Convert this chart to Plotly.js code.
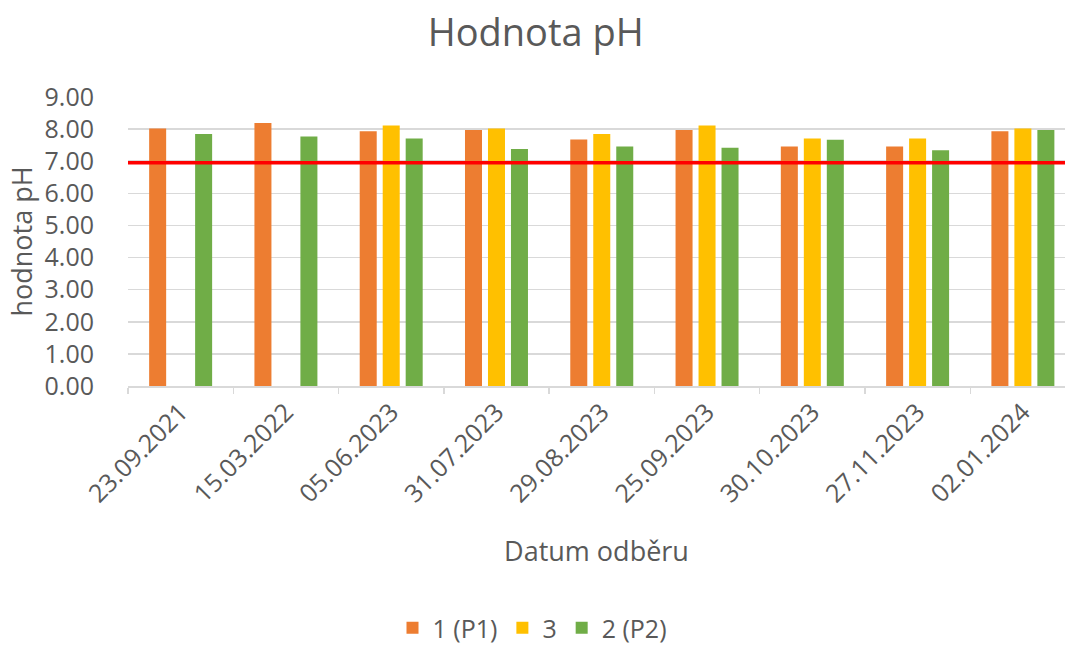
<!DOCTYPE html>
<html>
<head>
<meta charset="utf-8">
<script src="https://cdn.plot.ly/plotly-3.0.1.min.js"></script>
<style>html,body{margin:0;padding:0;background:#fff;}#chart{width:1065px;height:651px;}</style>
</head>
<body>
<div id="chart"></div>
<script>
const categories = ["23.09.2021","15.03.2022","05.06.2023","31.07.2023","29.08.2023","25.09.2023","30.10.2023","27.11.2023","02.01.2024"];
const seriesNames = ["1 (P1)", "3", "2 (P2)"];
const p1 = [8.02, 8.19, 7.93, 7.97, 7.68, 7.97, 7.46, 7.46, 7.93];
const s3 = [null, null, 8.11, 8.02, 7.85, 8.11, 7.71, 7.71, 8.02];
const p2 = [7.85, 7.77, 7.71, 7.38, 7.46, 7.42, 7.67, 7.34, 7.97];
const limitValue = 6.95;
const yTicks = [0,1,2,3,4,5,6,7,8,9];
const colors = ["#ED7D31", "#FFC000", "#70AD47"];

const FONT = "Open Sans, Noto Sans, sans-serif";
const GRAY = "#595959";

const traces = [p1, s3, p2].map((vals, i) => ({
  type: "bar",
  name: seriesNames[i],
  x: categories,
  y: vals,
  marker: {color: colors[i]},
  hoverinfo: "x+y+name"
}));

const layout = {
  width: 1065, height: 651,
  paper_bgcolor: "#fff", plot_bgcolor: "#fff",
  margin: {l: 128, r: 0, t: 97, b: 265},
  font: {family: FONT, color: GRAY},
  title: {text: "Hodnota pH", font: {family: FONT, size: 38, color: GRAY}, x: 0.503, xref: "container", xanchor: "center", y: 0.95, yref: "container", yanchor: "middle"},
  barmode: "group",
  bargap: 0.345,
  bargroupgap: 0.26,
  xaxis: {
    type: "category",
    range: [-0.5, 8.4],
    tickangle: -45,
    tickfont: {size: 25, color: GRAY},
    ticks: "outside", tickson: "boundaries", ticklen: 6, tickcolor: "#D9D9D9", tickwidth: 1.5,
    showline: true, linecolor: "#D9D9D9", linewidth: 1.5,
    showgrid: false,
    title: {text: "Datum odběru", font: {size: 27, color: GRAY}, standoff: 34},
    fixedrange: true
  },
  yaxis: {
    range: [0, 9],
    tickvals: yTicks,
    tickformat: ".2f",
    tickfont: {size: 25, color: GRAY},
    showgrid: true, gridcolor: "#D9D9D9", gridwidth: 1.5,
    zeroline: false, showline: false,
    ticks: "outside", ticklen: 28, tickcolor: "rgba(0,0,0,0)",
    title: {text: "hodnota pH", font: {size: 27, color: GRAY}, standoff: 4},
    fixedrange: true
  },
  shapes: [{
    type: "line", xref: "paper", yref: "y",
    x0: 0, x1: 1, y0: limitValue, y1: limitValue,
    line: {color: "#FF0000", width: 3.5}
  }],
  showlegend: true,
  legend: {
    orientation: "h", xref: "container", yref: "container",
    x: 0.5, xanchor: "center", y: 0.0, yanchor: "bottom",
    font: {size: 25, color: GRAY}, itemwidth: 30, traceorder: "normal"
  }
};

Plotly.newPlot("chart", traces, layout, {displayModeBar: false, staticPlot: true});
</script>
</body>
</html>
